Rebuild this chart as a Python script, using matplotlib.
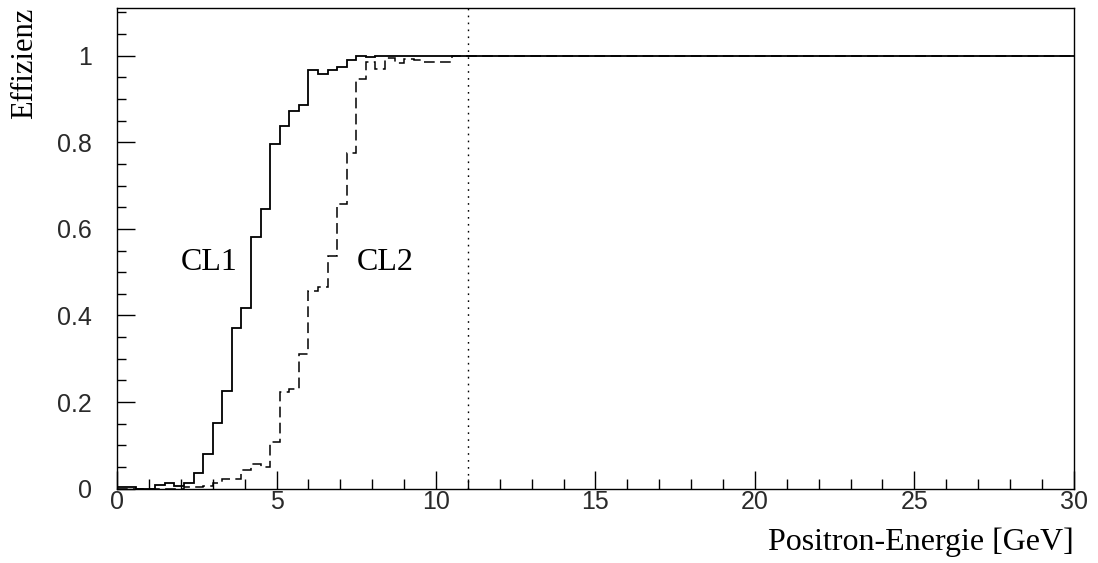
import numpy as np
import matplotlib
matplotlib.use("Agg")
import matplotlib.pyplot as plt
from matplotlib.ticker import MultipleLocator

# Histogram binning: 100 bins from 0 to 30 GeV
bin_lo, bin_hi, n_bins = 0.0, 30.0, 100

cl1_head = [0.005, 0.004, 0.0, 0.0, 0.008, 0.012, 0.006, 0.013, 0.036, 0.079,
            0.152, 0.226, 0.370, 0.417, 0.582, 0.645, 0.795, 0.838, 0.873, 0.885,
            0.966, 0.957, 0.966, 0.973, 0.990, 1.0, 0.997]
cl2_head = [0.0, 0.0, 0.0, 0.0, 0.0, 0.0, 0.0, 0.005, 0.004, 0.006,
            0.013, 0.023, 0.023, 0.043, 0.056, 0.050, 0.107, 0.223, 0.230, 0.311,
            0.457, 0.466, 0.537, 0.657, 0.775, 0.946, 0.986, 0.969, 0.995, 0.982,
            0.993, 0.989, 0.986, 0.986, 0.986]
plateau = 1.0
cl1 = cl1_head + [plateau] * (n_bins - len(cl1_head))
cl2 = cl2_head + [plateau] * (n_bins - len(cl2_head))

cut_energy = 11.0
labels = ["CL1", "CL2"]
label_pos = [(2.9, 0.523), (8.4, 0.523)]

edges = np.linspace(bin_lo, bin_hi, n_bins + 1)

fig = plt.figure(figsize=(10.98, 5.63), dpi=100)
ax = fig.add_axes([0.1066, 0.132, 0.978 - 0.1066, 0.9858 - 0.132])

ax.stairs(cl1, edges, color="black", linewidth=1.3, baseline=None)
ax.stairs(cl2, edges, color="black", linewidth=1.1, baseline=None,
          linestyle=(0, (7, 3.5)))
ax.axvline(cut_energy, color="black", linewidth=1.0, linestyle=(0, (1.2, 3.8)))

serif = ["Liberation Serif", "DejaVu Serif"]
for t, (x, y) in zip(labels, label_pos):
    ax.text(x, y, t, fontsize=23, family=serif, ha="center", va="center")

ax.set_xlim(0, 30)
ax.set_ylim(0, 1.11)
ax.xaxis.set_major_locator(MultipleLocator(5))
ax.xaxis.set_minor_locator(MultipleLocator(1))
ax.yaxis.set_major_locator(MultipleLocator(0.2))
ax.yaxis.set_minor_locator(MultipleLocator(0.05))
ax.set_yticks([0, 0.2, 0.4, 0.6, 0.8, 1.0])
ax.set_yticklabels(["0", "0.2", "0.4", "0.6", "0.8", "1"])

ax.tick_params(which="both", direction="in", top=False, right=False)
ax.tick_params(which="major", axis="x", length=13, width=1.0, pad=1)
ax.tick_params(which="minor", axis="x", length=7, width=1.0)
ax.tick_params(which="major", axis="y", length=13, width=1.0, pad=18)
ax.tick_params(which="minor", axis="y", length=6.5, width=1.0)
for lab in ax.get_xticklabels() + ax.get_yticklabels():
    lab.set_family(["Liberation Sans", "DejaVu Sans"])
    lab.set_fontsize(18)
    lab.set_color("#2a2a2a")

for s in ax.spines.values():
    s.set_linewidth(1.0)

ax.set_xlabel("Positron-Energie [GeV]", fontsize=23, family=serif, loc="right",
              labelpad=10)
ax.set_ylabel("Effizienz", fontsize=22, family=serif, loc="top", labelpad=13)

fig.savefig("out.png", dpi=100)
